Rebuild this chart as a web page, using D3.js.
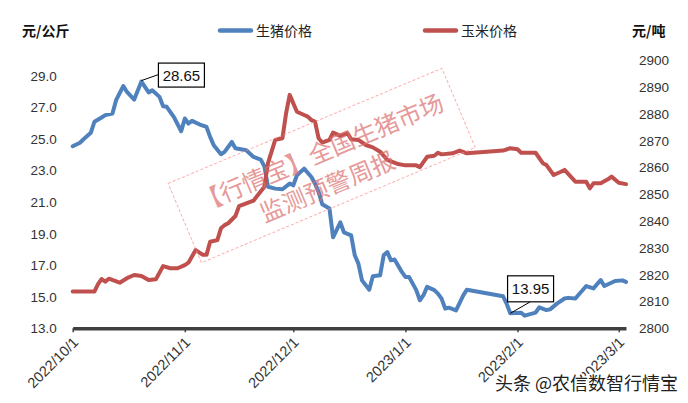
<!DOCTYPE html>
<html><head><meta charset="utf-8">
<script src="https://cdn.jsdelivr.net/npm/d3@7/dist/d3.min.js"></script>
<style>
html,body{margin:0;padding:0;background:#fff;}
svg{display:block;font-family:"Liberation Sans",Arial,"Noto Sans CJK SC",sans-serif;}
</style></head>
<body><svg id="c" width="688" height="403"></svg>
<script>
const hogDates = ["2022-10-01","2022-10-03","2022-10-04","2022-10-06","2022-10-07","2022-10-09","2022-10-10","2022-10-12","2022-10-13","2022-10-15","2022-10-16","2022-10-18","2022-10-20","2022-10-22","2022-10-23","2022-10-25","2022-10-26","2022-10-27","2022-10-29","2022-10-31","2022-11-01","2022-11-02","2022-11-03","2022-11-05","2022-11-07","2022-11-08","2022-11-09","2022-11-11","2022-11-12","2022-11-14","2022-11-15","2022-11-18","2022-11-20","2022-11-22","2022-11-23","2022-11-24","2022-11-26","2022-11-28","2022-11-30","2022-12-01","2022-12-02","2022-12-04","2022-12-06","2022-12-07","2022-12-08","2022-12-09","2022-12-11","2022-12-12","2022-12-14","2022-12-15","2022-12-17","2022-12-18","2022-12-19","2022-12-20","2022-12-22","2022-12-23","2022-12-25","2022-12-26","2022-12-27","2022-12-28","2022-12-29","2022-12-31","2023-01-01","2023-01-02","2023-01-04","2023-01-05","2023-01-06","2023-01-07","2023-01-09","2023-01-10","2023-01-11","2023-01-12","2023-01-13","2023-01-15","2023-01-17","2023-01-18","2023-01-28","2023-01-29","2023-01-30","2023-02-02","2023-02-03","2023-02-06","2023-02-07","2023-02-09","2023-02-10","2023-02-12","2023-02-14","2023-02-15","2023-02-17","2023-02-20","2023-02-22","2023-02-24","2023-02-25","2023-02-28","2023-03-02","2023-03-03"];
const hogPrice = [24.55,24.77,24.99,25.40,26.10,26.37,26.52,26.62,27.47,28.37,27.99,27.51,28.65,27.96,28.10,27.68,27.09,27.05,26.40,25.50,26.31,25.99,26.16,25.94,25.77,25.14,24.61,24.04,24.19,24.82,24.42,24.29,23.87,23.70,23.28,21.98,21.86,21.82,22.18,22.07,22.71,23.13,22.60,22.18,21.65,20.87,20.60,18.77,19.72,19.09,18.90,17.63,17.10,16.04,15.45,16.30,16.36,17.63,17.84,17.31,17.36,16.58,16.26,16.26,15.42,14.78,15.10,15.63,15.42,15.20,14.88,14.25,14.31,14.14,15.09,15.45,15.03,14.56,13.95,13.99,13.80,13.99,14.33,14.16,14.20,14.58,14.89,14.93,14.89,15.68,15.53,16.06,15.68,16.00,16.04,15.94];

const cornDates = ["2022-10-01","2022-10-07","2022-10-08","2022-10-09","2022-10-10","2022-10-11","2022-10-14","2022-10-16","2022-10-18","2022-10-20","2022-10-22","2022-10-24","2022-10-26","2022-10-28","2022-10-30","2022-11-01","2022-11-02","2022-11-04","2022-11-06","2022-11-07","2022-11-08","2022-11-10","2022-11-11","2022-11-12","2022-11-13","2022-11-15","2022-11-16","2022-11-18","2022-11-20","2022-11-21","2022-11-23","2022-11-24","2022-11-26","2022-11-28","2022-11-29","2022-11-30","2022-12-02","2022-12-04","2022-12-05","2022-12-06","2022-12-07","2022-12-08","2022-12-09","2022-12-11","2022-12-12","2022-12-14","2022-12-16","2022-12-17","2022-12-19","2022-12-21","2022-12-23","2022-12-25","2022-12-27","2022-12-30","2023-01-01","2023-01-04","2023-01-05","2023-01-07","2023-01-09","2023-01-10","2023-01-11","2023-01-14","2023-01-16","2023-01-18","2023-01-28","2023-01-30","2023-02-01","2023-02-02","2023-02-06","2023-02-08","2023-02-09","2023-02-11","2023-02-13","2023-02-14","2023-02-17","2023-02-20","2023-02-21","2023-02-22","2023-02-24","2023-02-26","2023-02-27","2023-03-01","2023-03-03"];
const cornPrice = [2813.7,2813.7,2816.5,2818.4,2817.4,2818.5,2817.0,2818.7,2819.9,2819.5,2818.0,2818.3,2823.2,2822.4,2822.4,2823.6,2824.5,2829.2,2827.4,2827.4,2832.3,2832.9,2837.3,2838.5,2839.2,2841.9,2845.6,2846.6,2847.6,2849.4,2852.8,2861.6,2870.3,2870.9,2880.2,2887.1,2880.8,2879.6,2879.0,2877.7,2877.1,2870.9,2869.3,2870.3,2873.0,2871.8,2872.8,2870.5,2870.3,2868.4,2867.5,2865.9,2862.8,2861.3,2860.8,2860.8,2860.1,2864.0,2864.4,2865.5,2864.9,2865.3,2866.3,2865.3,2866.3,2867.2,2866.8,2865.5,2865.5,2861.6,2860.9,2857.2,2858.4,2859.1,2854.7,2854.7,2852.2,2854.1,2854.1,2855.6,2856.6,2854.3,2853.8];

const leftTicks = [13,15,17,19,21,23,25,27,29];
const rightTicks = [2800,2810,2820,2830,2840,2850,2860,2870,2880,2890,2900];
const xTickDates = ["2022-10-01","2022-11-01","2022-12-01","2023-01-01","2023-02-01","2023-03-01"];
const xTickLabels = ["2022/10/1","2022/11/1","2022/12/1","2023/1/1","2023/2/1","2023/3/1"];
const seriesNames = ["生猪价格","玉米价格"];
const annotated = [28.65, 13.95];

const parse = d3.timeParse("%Y-%m-%d");
const hog = hogDates.map((d,i)=>({date:parse(d), v:hogPrice[i]}));
const corn = cornDates.map((d,i)=>({date:parse(d), v:cornPrice[i]}));

const svg = d3.select("#c");
const L = 72.7, R = 626, T = 60.3, B = 328.3;
const x = d3.scaleTime().domain([parse("2022-10-01"), parse("2023-03-03")]).range([L, R]);
const yL = d3.scaleLinear().domain([13,30]).range([B, T]);
const yR = d3.scaleLinear().domain([2800,2900]).range([B, T]);

const blue = "#4F81BD", red = "#C0504D";

svg.append("g").attr("transform",`translate(${L},0)`)
  .call(d3.axisLeft(yL).tickValues(leftTicks).tickFormat(d3.format(".1f")).tickSize(0).tickPadding(16))
  .call(g=>g.select(".domain").remove())
  .call(g=>g.selectAll("text").attr("font-size",13.5).attr("fill","#333").attr("font-family","Liberation Sans, Arial"));

svg.append("g").attr("transform",`translate(${R},0)`)
  .call(d3.axisRight(yR).tickValues(rightTicks).tickFormat(d3.format("d")).tickSize(0).tickPadding(13))
  .call(g=>g.select(".domain").remove())
  .call(g=>g.selectAll("text").attr("font-size",13.5).attr("fill","#333").attr("font-family","Liberation Sans, Arial"));

const lineL = d3.line().x(d=>x(d.date)).y(d=>yL(d.v));
const lineR = d3.line().x(d=>x(d.date)).y(d=>yR(d.v));
svg.append("path").datum(hog).attr("d",lineL).attr("fill","none").attr("stroke",blue)
  .attr("stroke-width",4).attr("stroke-linejoin","round").attr("stroke-linecap","round");
svg.append("path").datum(corn).attr("d",lineR).attr("fill","none").attr("stroke",red)
  .attr("stroke-width",4).attr("stroke-linejoin","round").attr("stroke-linecap","round");

const xa = svg.append("g").attr("transform",`translate(0,${B})`)
  .call(d3.axisBottom(x).tickValues(xTickDates.map(parse)).tickFormat((d,i)=>xTickLabels[i]).tickSizeInner(4).tickSizeOuter(0));
xa.select(".domain").attr("stroke","#404040").attr("stroke-width",3.5);
xa.selectAll(".tick line").attr("stroke","#404040").attr("stroke-width",1.5);
xa.selectAll(".tick text").attr("font-size",14.5).attr("fill","#333")
  .attr("font-family","Liberation Sans, Arial")
  .attr("text-anchor","end").attr("dy",null).attr("y",null)
  .attr("transform","translate(6,15) rotate(-45)");

const hp = hog.find(d=>d.v===annotated[0]);
const lp = hog.find(d=>d.v===annotated[1]);
{
  const px = x(hp.date), py = yL(hp.v);
  svg.append("line").attr("x1",px).attr("y1",py-1).attr("x2",px+17).attr("y2",py-7).attr("stroke","#000").attr("stroke-width",1);
  svg.append("rect").attr("x",px+17).attr("y",py-18.5).attr("width",46).attr("height",24)
    .attr("fill","#fff").attr("stroke","#000").attr("stroke-width",1.2);
  svg.append("text").attr("x",px+40).attr("y",py-1).attr("text-anchor","middle")
    .attr("font-size",15).attr("fill","#111").text(annotated[0].toFixed(2));
}
{
  const px = x(lp.date), py = yL(lp.v);
  svg.append("line").attr("x1",px).attr("y1",py).attr("x2",px+20).attr("y2",py-11.5).attr("stroke","#000").attr("stroke-width",1);
  svg.append("rect").attr("x",px-2.7).attr("y",py-37.5).attr("width",46).attr("height",26)
    .attr("fill","#fff").attr("stroke","#000").attr("stroke-width",1.2);
  svg.append("text").attr("x",px+20.3).attr("y",py-19).attr("text-anchor","middle")
    .attr("font-size",15).attr("fill","#111").text(annotated[1].toFixed(2));
}

svg.append("text").attr("x",22).attr("y",36).attr("font-size",14).attr("font-weight","bold")
  .attr("font-family","Noto Sans CJK SC").attr("fill","#111").text("元/公斤");
svg.append("text").attr("x",632).attr("y",36).attr("font-size",14).attr("font-weight","bold")
  .attr("font-family","Noto Sans CJK SC").attr("fill","#111").text("元/吨");

const lg = [{name:seriesNames[0],c:blue,x:218},{name:seriesNames[1],c:red,x:423}];
lg.forEach(d=>{
  svg.append("line").attr("x1",d.x+2).attr("x2",d.x+33).attr("y1",30.5).attr("y2",30.5)
    .attr("stroke",d.c).attr("stroke-width",4.5).attr("stroke-linecap","round");
  svg.append("text").attr("x",d.x+38).attr("y",36).attr("font-size",14)
    .attr("font-family","Noto Sans CJK SC").attr("fill","#222").text(d.name);
});

const wm = svg.append("g").attr("transform","translate(321.7,165.5) rotate(-22.8)").attr("opacity",0.7);
wm.append("rect").attr("x",-148.5).attr("y",-43).attr("width",297).attr("height",86)
  .attr("fill","none").attr("stroke","#FF8C8C").attr("stroke-width",1).attr("stroke-dasharray","3,2");
wm.append("text").attr("x",4).attr("y",-14).attr("dominant-baseline","central").attr("text-anchor","middle")
  .attr("font-size",24).attr("font-family","Noto Sans CJK SC").attr("fill","#DC6E6E").text("【行情宝】全国生猪市场");
wm.append("text").attr("x",-3).attr("y",20).attr("dominant-baseline","central").attr("text-anchor","middle")
  .attr("font-size",24).attr("font-family","Noto Sans CJK SC").attr("fill","#DC6E6E").text("监测预警周报");

svg.append("text").attr("x",678).attr("y",390).attr("text-anchor","end").attr("font-size",18)
  .attr("font-family","Noto Sans CJK SC").attr("fill","#222")
  .attr("stroke","#fff").attr("stroke-width",3).attr("paint-order","stroke").text("头条 @农信数智行情宝");
</script></body></html>
